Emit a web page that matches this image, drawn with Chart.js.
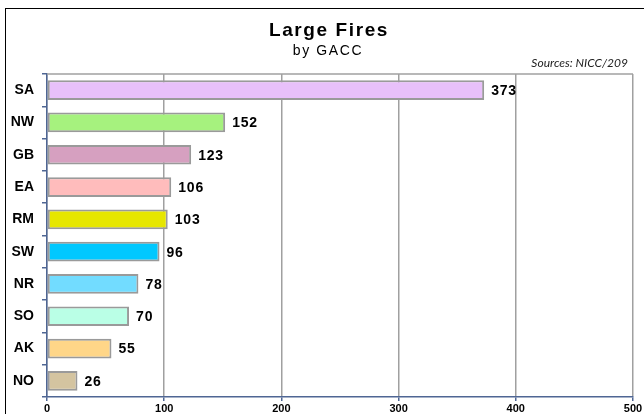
<html lang="en">

<head>
    <meta charset="UTF-8">
    <title>Large Fires by GACC</title>
    <script src="https://cdn.jsdelivr.net/npm/chart.js"></script>
    <style>
        body { margin: 0; background: #fff; }
        #wrap { position: relative; width: 644px; height: 414px; overflow: hidden; }
        #frame { position: absolute; left: 5px; top: 8px; width: 700px; height: 500px; border: 1.5px solid #000; box-sizing: border-box; }
        canvas { position: absolute; left: 0; top: 0; }
    </style>
</head>

<body>
    <div id="wrap">
        <div id="frame"></div>
        <canvas id="myChart" width="644" height="414"></canvas>
    </div>

    <script>
        // data
        let regions = ['SA', 'NW', 'GB', 'EA', 'RM', 'SW', 'NR', 'SO', 'AK', 'NO'];
        let fires = [373, 152, 123, 106, 103, 96, 78, 70, 55, 26];
        let barColors = ['#e8c0fa', '#a6f27e', '#d6a0c0', '#ffbcbc', '#e6e600', '#00c8ff', '#72dcff', '#baffe6', '#ffd688', '#d4c4a0'];
        let xTicks = [0, 100, 200, 300, 400, 500];

        let titleText = 'Large Fires';
        let subtitleText = 'by GACC';
        let sourceText = 'Sources: NICC/209';

        let axisBlue = '#4f6694';
        let gridGray = '#a0a0a0';
        let arial = '"Liberation Sans", Arial, sans-serif';

        //titler, kilde og tallene ved enden af hver bar
        let labelPlugin = {
            id: 'labels',
            beforeDatasetsDraw(chart) {
                let ctx = chart.ctx;
                let a = chart.chartArea;
                ctx.save();
                ctx.strokeStyle = gridGray;
                ctx.lineWidth = 1.5;
                ctx.beginPath();
                ctx.moveTo(a.left, a.top);
                ctx.lineTo(a.right, a.top);
                ctx.stroke();
                ctx.restore();
            },
            afterDatasetsDraw(chart) {
                let ctx = chart.ctx;
                let meta = chart.getDatasetMeta(0);
                ctx.save();
                ctx.fillStyle = '#000';
                ctx.textBaseline = 'middle';

                // titel
                ctx.textAlign = 'center';
                ctx.font = 'bold 19px ' + arial;
                ctx.letterSpacing = '1.6px';
                ctx.fillText(titleText, 329, 31);
                ctx.font = '14px ' + arial;
                ctx.letterSpacing = '1.6px';
                ctx.fillText(subtitleText, 328, 51);

                // værdier
                ctx.textAlign = 'left';
                ctx.font = 'bold 14px ' + arial;
                ctx.letterSpacing = '0.8px';
                meta.data.forEach((bar, i) => {
                    ctx.fillText(fires[i], bar.x + 7, bar.y + 1);
                });

                // kilde
                ctx.letterSpacing = '0px';
                ctx.font = 'italic 12px Lato, "Open Sans", sans-serif';
                ctx.fillStyle = '#222';
                ctx.textAlign = 'right';
                ctx.fillText(sourceText, 628, 63);
                ctx.restore();
            }
        };

        let ctx = document.getElementById('myChart').getContext('2d');
        let myChart = new Chart(ctx, {
            type: 'bar',
            data: {
                labels: regions,
                datasets: [{
                    data: fires,
                    backgroundColor: barColors,
                    borderColor: '#9a9a9a',
                    borderWidth: 2,
                    borderSkipped: false,
                    barPercentage: 0.61,
                    categoryPercentage: 1
                }]
            },
            options: {
                indexAxis: 'y',
                responsive: false,
                animation: false,
                layout: { padding: { left: 0, right: 11, top: 74, bottom: 0 } },
                plugins: {
                    legend: { display: false },
                    tooltip: { enabled: false }
                },
                scales: {
                    x: {
                        min: 0,
                        max: 500,
                        afterBuildTicks: s => { s.ticks = xTicks.map(v => ({ value: v })); },
                        afterFit: s => { s.height = 17; },
                        border: { color: axisBlue, width: 1.5 },
                        grid: { color: gridGray, lineWidth: 1.5, tickColor: axisBlue, tickLength: 4 },
                        ticks: {
                            color: '#000',
                            padding: 1,
                            maxRotation: 0,
                            font: { family: arial, size: 11, weight: 'bold' }
                        }
                    },
                    y: {
                        afterFit: s => { s.width = 47; },
                        border: { color: axisBlue, width: 1.5 },
                        grid: { offset: true, drawOnChartArea: false, color: axisBlue, tickLength: 5, lineWidth: 1.5 },
                        ticks: {
                            color: '#000',
                            padding: 8,
                            font: { family: arial, size: 14, weight: 'bold' }
                        }
                    }
                }
            },
            plugins: [labelPlugin]
        });
    </script>

</body>

</html>
